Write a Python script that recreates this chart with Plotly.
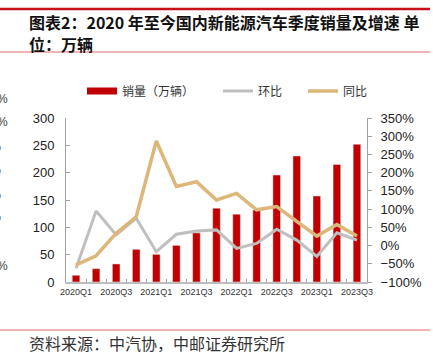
import plotly.graph_objects as go

quarters = ["2020Q1", "2020Q2", "2020Q3", "2020Q4",
            "2021Q1", "2021Q2", "2021Q3", "2021Q4",
            "2022Q1", "2022Q2", "2022Q3", "2022Q4",
            "2023Q1", "2023Q2", "2023Q3"]
tick_labels = ["2020Q1", "", "2020Q3", "", "2021Q1", "", "2021Q3", "",
               "2022Q1", "", "2022Q3", "", "2023Q1", "", "2023Q3"]
sales = [12.3, 24.4, 33, 59.8, 50.6, 67, 90, 135, 124, 131.7, 195.7, 230.5, 157.3, 215, 252]
qoq = [-62, 95, 29, 75, -17, 31, 40, 43, -8, 6, 45, 15, -30, 35, 15]
yoy = [-53, -28, 34, 79, 287, 162, 175, 125, 143, 98, 107, 67, 26, 58, 26]

W, H = 433, 354
ML, MR, MT, MB = 66, 66, 118, 72
PW, PH = W - ML - MR, H - MT - MB

def px(x):
    return (x - ML) / PW

def py(y):
    return (H - MB - y) / PH

RED = "#C00000"
GRAY = "#BFBFBF"
GOLD = "#DDB679"
CJK = "Noto Sans CJK SC"
NUM = "Liberation Sans, Arial, Noto Sans CJK SC"

fig = go.Figure()
fig.add_trace(go.Bar(x=quarters, y=sales, marker_color=RED, showlegend=False,
                     name="销量（万辆）"))
# legend proxy for bar series (wide rectangular swatch)
fig.add_trace(go.Scatter(x=[quarters[0]], y=[None], mode="lines",
                         line=dict(color=RED, width=7), name="销量（万辆）",
                         legend="legend"))
fig.add_trace(go.Scatter(x=quarters, y=qoq, mode="lines", yaxis="y2",
                         line=dict(color=GRAY, width=3), name="环比",
                         legend="legend2"))
fig.add_trace(go.Scatter(x=quarters, y=yoy, mode="lines", yaxis="y2",
                         line=dict(color=GOLD, width=3.5), name="同比",
                         legend="legend3"))

leg_common = dict(orientation="v", xanchor="left", yanchor="middle",
                  font=dict(family=CJK, size=12, color="#333333"),
                  bgcolor="rgba(0,0,0,0)", borderwidth=0)
fig.update_layout(
    width=W, height=H,
    margin=dict(l=ML, r=MR, t=MT, b=MB, pad=0),
    paper_bgcolor="white", plot_bgcolor="white",
    bargap=0.62,
    xaxis=dict(type="category", tickmode="array", tickvals=quarters,
               ticktext=tick_labels, tickson="boundaries", tickangle=0,
               ticks="inside", ticklen=3, tickcolor="#A0A0A0",
               showline=True, linecolor="#BDBDBD", linewidth=2,
               showgrid=False, zeroline=False,
               tickfont=dict(family=NUM, size=9, color="#333333")),
    yaxis=dict(range=[0, 300], dtick=50, showgrid=False, zeroline=False,
               showline=True, linecolor="#A0A0A0", linewidth=1,
               ticks="inside", ticklen=4, tickcolor="#A0A0A0",
               ticklabelstandoff=8,
               tickfont=dict(family=NUM, size=13, color="#222222")),
    yaxis2=dict(range=[-100, 350], dtick=50, overlaying="y", side="right",
                showgrid=False, zeroline=False, ticksuffix="%",
                showline=True, linecolor="#A0A0A0", linewidth=1,
                ticks="outside", ticklen=4, tickcolor="#A0A0A0",
                ticklabelstandoff=6,
                tickfont=dict(family=NUM, size=13, color="#222222")),
    legend=dict(x=px(82), y=py(91), **leg_common),
    legend2=dict(x=px(218), y=py(91), **leg_common),
    legend3=dict(x=px(303), y=py(91), **leg_common),
)

ann = []
ann.append(dict(text="<b>图表2：2020 年至今国内新能源汽车季度销量及增速 单</b>",
                x=px(27), y=py(22), xref="paper", yref="paper",
                xanchor="left", yanchor="middle", showarrow=False,
                font=dict(family=CJK, size=16, color="#111111")))
ann.append(dict(text="<b>位：万辆</b>",
                x=px(27), y=py(44), xref="paper", yref="paper",
                xanchor="left", yanchor="middle", showarrow=False,
                font=dict(family=CJK, size=16, color="#111111")))
ann.append(dict(text="资料来源：中汽协，中邮证券研究所",
                x=px(27), y=py(343), xref="paper", yref="paper",
                xanchor="left", yanchor="middle", showarrow=False,
                font=dict(family=CJK, size=16, color="#333333")))
# partially hidden labels at the left edge (as in the reference)
for yy in [99, 122, 266]:
    ann.append(dict(text="100%", x=px(10), y=py(yy), xref="paper", yref="paper",
                    xanchor="right", yanchor="middle", showarrow=False,
                    font=dict(family=NUM, size=12, color="#444444")))
for yy in [147, 170, 195, 217]:
    ann.append(dict(text="50%", x=px(3), y=py(yy), xref="paper", yref="paper",
                    xanchor="right", yanchor="middle", showarrow=False,
                    font=dict(family=NUM, size=12, color="#444444")))
fig.update_layout(annotations=ann)

shapes = [
    dict(type="line", xref="paper", yref="paper", x0=px(0), x1=px(430),
         y0=py(9), y1=py(9), line=dict(color="#C8101A", width=2.5)),
    dict(type="line", xref="paper", yref="paper", x0=px(0), x1=px(430),
         y0=py(52), y1=py(52), line=dict(color="#E06B6B", width=1)),
    dict(type="line", xref="paper", yref="paper", x0=px(0), x1=px(430),
         y0=py(330), y1=py(330), line=dict(color="#E06B6B", width=1)),
]
fig.update_layout(shapes=shapes)

fig.write_html("out.html")
